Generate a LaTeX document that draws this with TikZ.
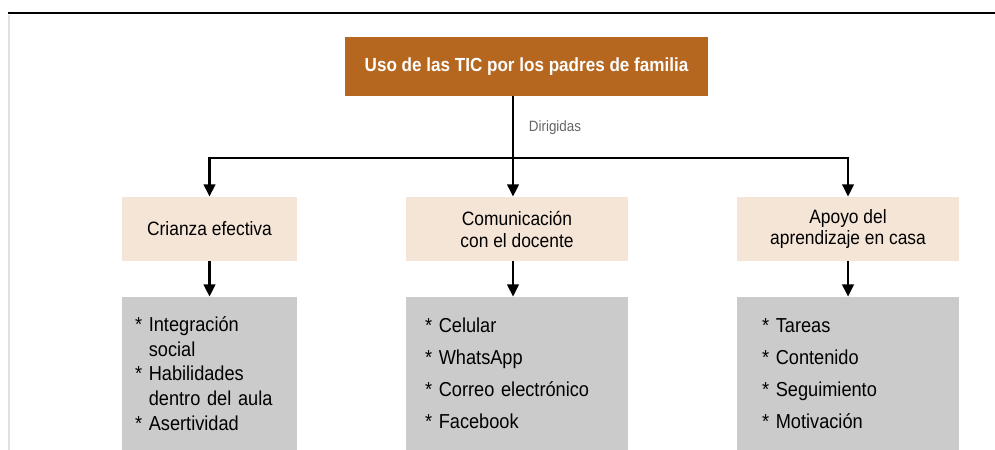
\documentclass[tikz,border=0pt]{standalone}
\usepackage{fontspec}
\setmainfont{Liberation Sans}[FakeStretch=0.9]
\usetikzlibrary{arrows.meta,positioning}
\definecolor{titulocolor}{HTML}{B5661F}
\definecolor{tancolor}{HTML}{F4E5D6}
\definecolor{grisbox}{HTML}{CBCBCB}
\definecolor{grislabel}{HTML}{666666}
\begin{document}
\begin{tikzpicture}[x=0.02cm, y=-0.02cm,
    titulo/.style={fill=titulocolor, text=white, font=\bfseries\fontsize{10.8}{13}\selectfont, minimum width=7.26cm, minimum height=1.18cm, inner sep=0pt},
    tanbox/.style={fill=tancolor, font=\fontsize{11}{12.5}\selectfont, align=center, minimum height=1.28cm, inner sep=0pt},
    listbox/.style={fill=grisbox, align=left, minimum height=3.06cm, inner sep=0pt},
    link/.style={line width=1.4pt},
    arr/.style={line width=1.4pt, -{Triangle[length=7pt, width=6.5pt]}},
    lbl/.style={text=grislabel, font=\fontsize{8.5}{10}\selectfont}]
    \useasboundingbox (0, 0) rectangle (995, 450);
    \draw [line width=0.9pt] (8, 13) -- (995, 13);
    \draw [line width=1.2pt, color=black!12] (9, 15) -- (9, 450);
    \node [titulo] (titulo) at (526.5, 66.5) {Uso de las TIC por los padres de familia};
    \node [tanbox, minimum width=3.5cm] (crianza) at (209.5, 229) {Crianza efectiva};
    \node [tanbox, minimum width=4.44cm] (comunic) at (517, 229) {Comunicación\\con el docente};
    \node [tanbox, minimum width=4.44cm] (apoyo) at (848, 229) {Apoyo del\\aprendizaje en casa};
    \node [listbox, minimum width=3.5cm, text width=2.98cm, font=\fontsize{11.5}{14}\selectfont] (lista1) at (209.5, 373.5)
        {{*} Integración\\\phantom{* }social\\{*} Habilidades\\\phantom{* }dentro del aula\\{*} Asertividad};
    \node [listbox, minimum width=4.44cm, text width=3.68cm, font=\fontsize{11.5}{18.2}\selectfont] (lista2) at (517, 373.5)
        {{*} Celular\\{*} WhatsApp\\{*} Correo electrónico\\{*} Facebook};
    \node [listbox, minimum width=4.44cm, text width=3.44cm, font=\fontsize{11.5}{18.2}\selectfont] (lista3) at (848, 373.5)
        {{*} Tareas\\{*} Contenido\\{*} Seguimiento\\{*} Motivación};
    \coordinate (j) at (513, 158);
    \draw [link] (j |- titulo.south) -- node [lbl, right=5pt] (dirigidas) {Dirigidas} (j);
    \draw [arr] (j) -| (crianza.north);
    \draw [arr] (j) -| (apoyo.north);
    \draw [arr] (j) -- (j |- comunic.north);
    \draw [arr] (crianza.south) -- (lista1.north);
    \draw [arr] (j |- comunic.south) -- (j |- lista2.north);
    \draw [arr] (apoyo.south) -- (lista3.north);
\end{tikzpicture}
\end{document}
